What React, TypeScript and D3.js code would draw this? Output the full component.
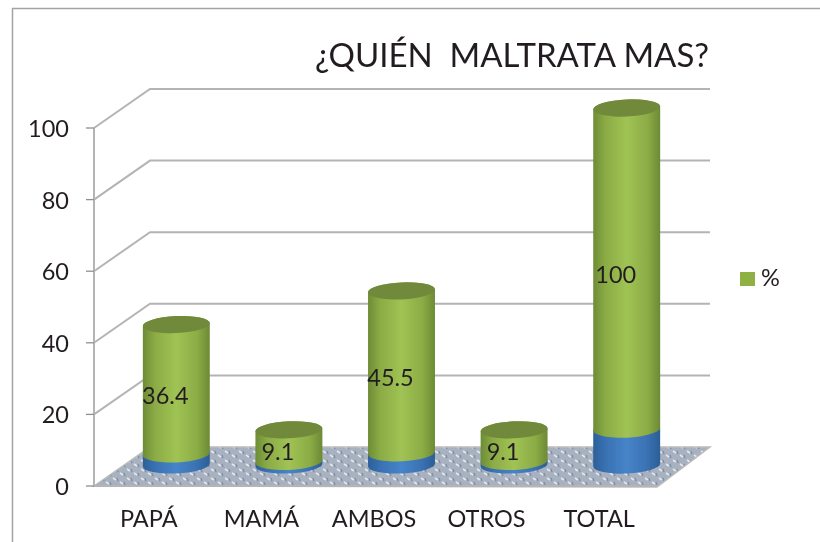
import React from "react";
import * as d3 from "d3";

const categories = ["PAPÁ", "MAMÁ", "AMBOS", "OTROS", "TOTAL"];
const baseValues = [3.1, 1, 3.4, 1, 10];
const percentValues = [36.4, 9.1, 45.5, 9.1, 100];
const yTicks = [0, 20, 40, 60, 80, 100];
const titleText = "¿QUIÉN  MALTRATA MAS?";
const legendLabel = "%";

const W = 820, H = 542;
const FONT = "Lato, Carlito, 'Open Sans', sans-serif";
const TEXT = "#231f20";
const GRID = "#b4b4b4";
const depthX = 56, depthY = -39;
const floorRight = 657;

const y = d3.scaleLinear().domain([0, 100]).range([486, 128]).clamp(true);
const x = d3.scaleBand<string>().domain(categories).range([120, 683]).paddingInner(0.405).paddingOuter(0.2025);
const x0 = 94;
const baseShift = -21;
const ry = 8.5;
const tilt = -2.6;
const rad = (tilt * Math.PI) / 180;

function bodyPath(cx: number, rx: number, yBottom: number, yTop: number) {
  const dx = rx * Math.cos(rad), dy = rx * Math.sin(rad);
  return `M${cx - dx},${yTop - dy}L${cx - dx},${yBottom - dy}` +
    `A${rx},${ry},${tilt},0,0,${cx + dx},${yBottom + dy}` +
    `L${cx + dx},${yTop + dy}` +
    `A${rx},${ry},${tilt},0,0,${cx - dx},${yTop - dy}Z`;
}

export default function App() {
  const floor = d3.line()([
    [x0, y(0)],
    [x0 + depthX, y(0) + depthY],
    [710, y(0) + depthY],
    [floorRight, y(0) + 1],
  ] as [number, number][]) + "Z";

  return (
    <svg width={W} height={H} viewBox={`0 0 ${W} ${H}`} style={{ position: "absolute", left: 0, top: 0, display: "block", background: "#fff" }}>
      <defs>
        <linearGradient id="green" x1="0" x2="1" y1="0" y2="0">
          <stop offset="0" stopColor="#6e8c36" />
          <stop offset="0.18" stopColor="#8bab45" />
          <stop offset="0.5" stopColor="#a0c354" />
          <stop offset="0.82" stopColor="#8bab45" />
          <stop offset="1" stopColor="#6c8a35" />
        </linearGradient>
        <linearGradient id="blue" x1="0" x2="1" y1="0" y2="0">
          <stop offset="0" stopColor="#2c609a" />
          <stop offset="0.2" stopColor="#3a72b4" />
          <stop offset="0.5" stopColor="#4684c8" />
          <stop offset="0.8" stopColor="#3a72b4" />
          <stop offset="1" stopColor="#2b5e96" />
        </linearGradient>
        <pattern id="floorTex" width="14" height="9" patternUnits="userSpaceOnUse">
          <rect width="14" height="9" fill="#a7b1c0" />
          <path d="M1,1l3,2M8,5l3,2" stroke="#e4e8ed" strokeWidth="1.6" fill="none" />
          <path d="M5,1l1,3M12,5l1,3" stroke="#7f8ea5" strokeWidth="1.3" fill="none" />
        </pattern>
        <filter id="soft" x="-5%" y="-5%" width="110%" height="110%">
          <feGaussianBlur stdDeviation="0.5" />
        </filter>
        <filter id="softText" x="-5%" y="-5%" width="110%" height="110%">
          <feGaussianBlur stdDeviation="0.3" />
        </filter>
      </defs>

      <path d={`M12.5,${H}V8.5H${W}`} fill="none" stroke="#a3a3a3" strokeWidth={1.5} />

      <g filter="url(#soft)">
        <path d={floor} fill="url(#floorTex)" stroke="#bcbcbc" strokeWidth={1.5} />
        {yTicks.filter((t) => t > 0).map((t) => (
          <path key={t} fill="none" stroke={GRID} strokeWidth={2}
            d={`M${x0},${y(t)}L${x0 + depthX},${y(t) + depthY}H710`} />
        ))}
        <path d={`M${x0},${y(100)}V${y(0)}H${floorRight}`} fill="none" stroke={GRID} strokeWidth={2} />
        {yTicks.map((t) => (
          <line key={t} x1={x0 - 8} x2={x0} y1={y(t)} y2={y(t)} stroke="#8f8f8f" strokeWidth={1.3} />
        ))}

        {categories.map((c, i) => {
          const rx = x.bandwidth() / 2;
          const cx = (x(c) as number) + rx;
          const y0 = y(0) + baseShift;
          const y1 = y(baseValues[i]) + baseShift;
          const y2 = y(baseValues[i] + percentValues[i]) + baseShift + 1;
          return (
            <g key={c}>
              <path d={bodyPath(cx, rx, y0, y1)} fill="url(#blue)" />
              <path d={bodyPath(cx, rx, y1, y2)} fill="url(#green)" />
              <ellipse cx={cx} cy={y2} rx={rx} ry={ry} transform={`rotate(${tilt} ${cx} ${y2})`} fill="#71893a" />
            </g>
          );
        })}
      </g>

      <g filter="url(#softText)" fontFamily={FONT} fill={TEXT}>
        <text x={512} y={67} textAnchor="middle" fontSize={33} xmlSpace="preserve" style={{ whiteSpace: "pre" }}>{titleText}</text>

        {categories.map((c, i) => {
          const rx = x.bandwidth() / 2;
          const cx = (x(c) as number) + rx;
          const y1 = y(baseValues[i]) + baseShift;
          const y2 = y(baseValues[i] + percentValues[i]) + baseShift;
          return (
            <text key={c} x={cx - 11} y={(y1 + y2) / 2 + 6} textAnchor="middle" dominantBaseline="central"
              fontSize={23.5}>{percentValues[i]}</text>
          );
        })}

        {yTicks.map((t) => (
          <text key={t} x={69} y={y(t)} textAnchor="end" dominantBaseline="central" fontSize={23.5}>{t}</text>
        ))}

        {categories.map((c) => (
          <text key={c} x={(x(c) as number) + x.bandwidth() / 2 - 27.5} y={527} textAnchor="middle" fontSize={23.5}>{c}</text>
        ))}

        <text x={761} y={286} fontSize={23.5}>{legendLabel}</text>
      </g>

      <rect x={740} y={272} width={15} height={14} fill="#8fb143" />
    </svg>
  );
}
